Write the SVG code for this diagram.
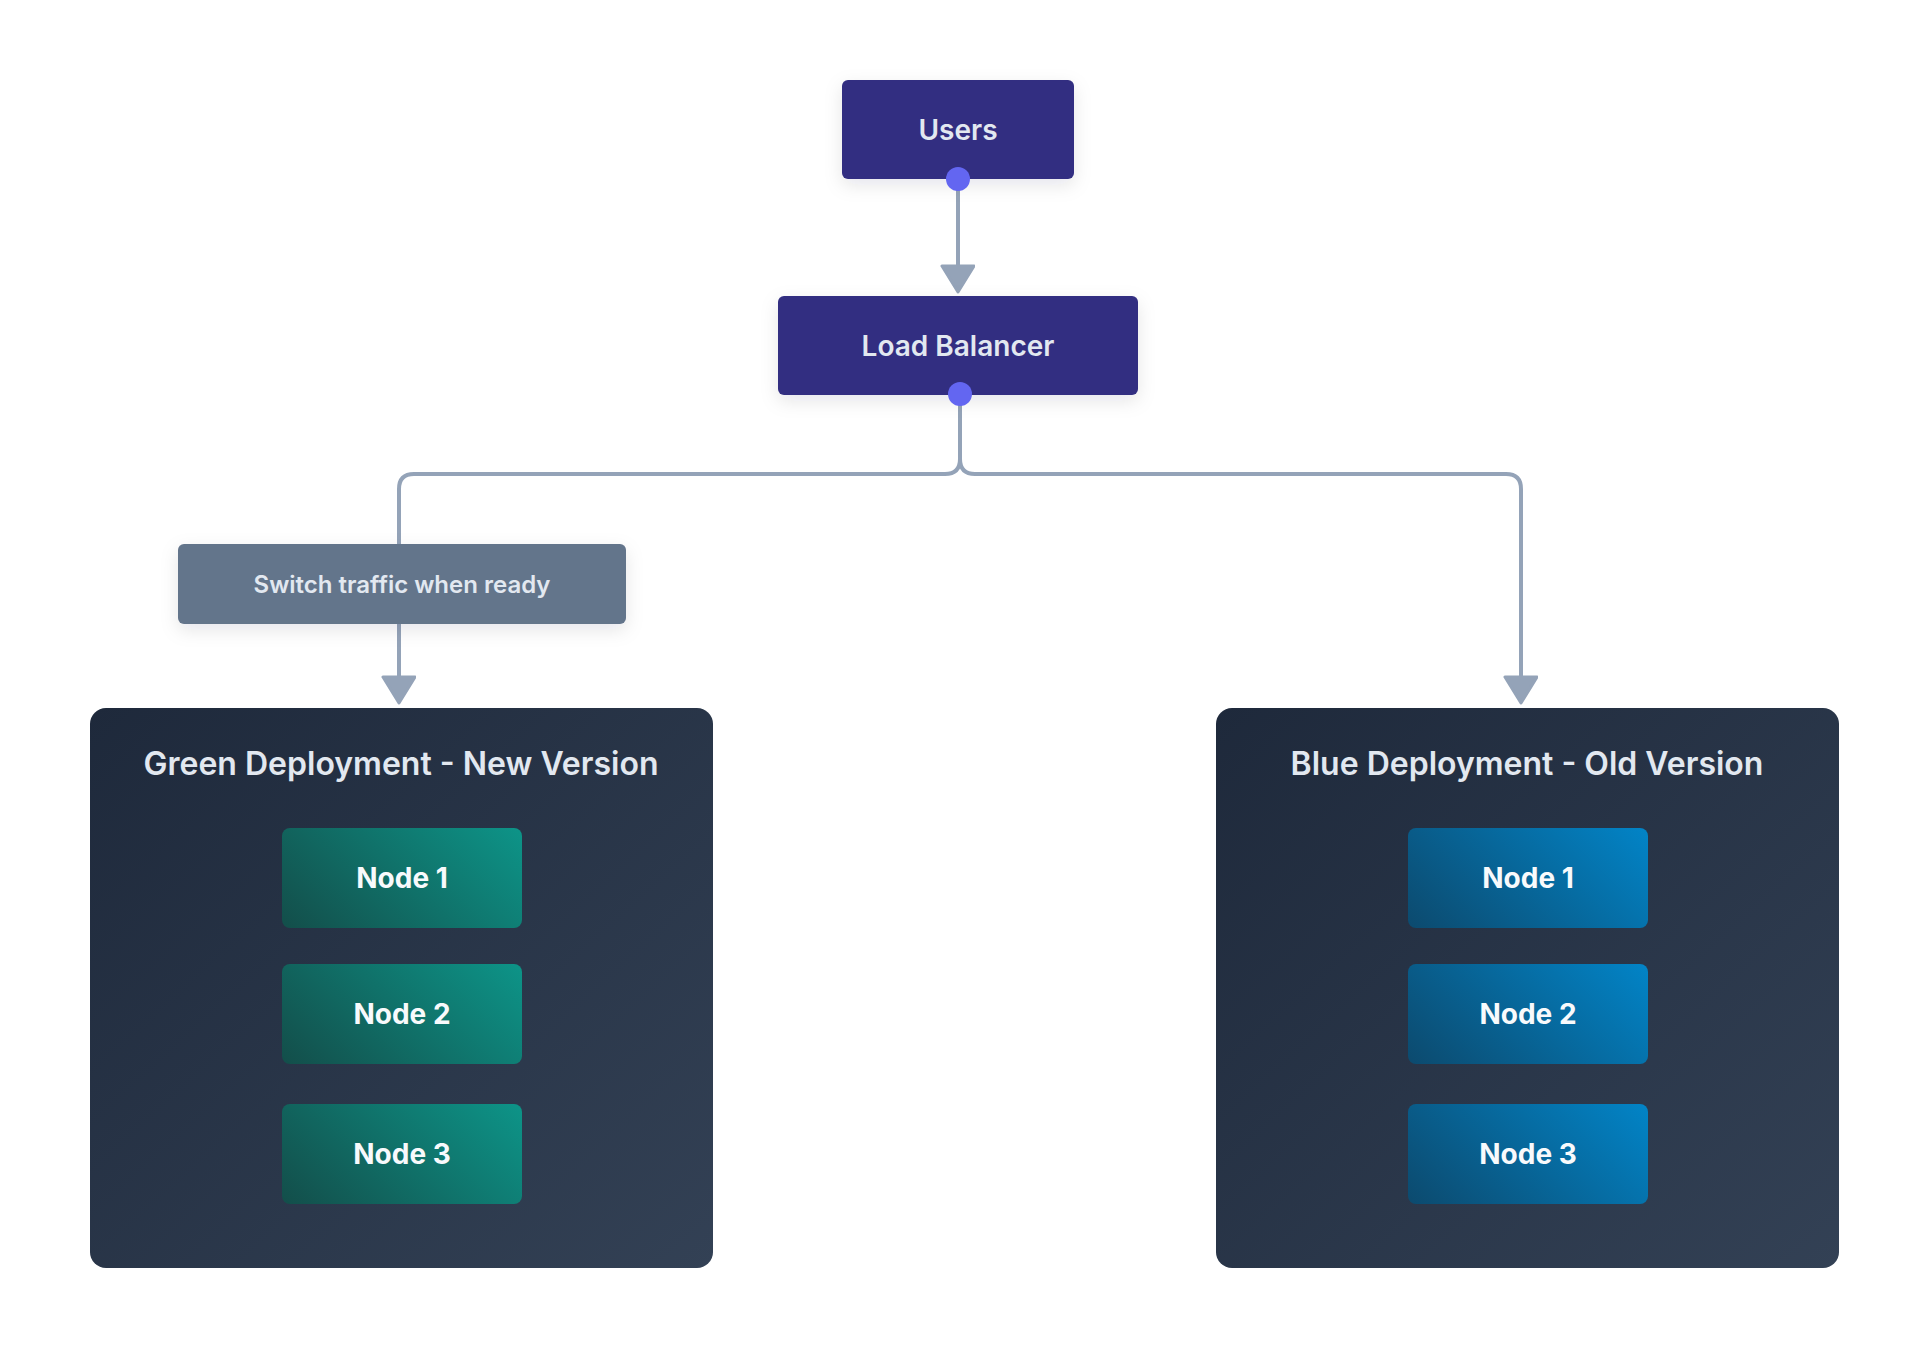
<svg xmlns="http://www.w3.org/2000/svg" width="1920" height="1348" viewBox="0 0 1920 1348">
  <defs>
    <linearGradient id="groupFill" x1="0" y1="0" x2="1" y2="1">
      <stop offset="0" stop-color="#1e293b"/>
      <stop offset="1" stop-color="#334155"/>
    </linearGradient>
    <!-- node gradients run at 45deg in each node's local box (240 x 100) -->
    <linearGradient id="greenFill" gradientUnits="userSpaceOnUse" x1="35" y1="135" x2="205" y2="-35">
      <stop offset="0" stop-color="#134e4a"/>
      <stop offset="1" stop-color="#0d9488"/>
    </linearGradient>
    <linearGradient id="blueFill" gradientUnits="userSpaceOnUse" x1="35" y1="135" x2="205" y2="-35">
      <stop offset="0" stop-color="#0c4a6e"/>
      <stop offset="1" stop-color="#0284c7"/>
    </linearGradient>
    <filter id="shadow" x="-20%" y="-30%" width="140%" height="170%">
      <feDropShadow dx="0" dy="6" stdDeviation="9" flood-color="#0f172a" flood-opacity="0.10"/>
    </filter>
    <marker id="arrow" markerUnits="userSpaceOnUse" markerWidth="40" markerHeight="40" refX="2" refY="17" orient="auto" viewBox="0 0 40 40">
      <path d="M2,1 L28,17 L2,33 Z" fill="#94a3b8" stroke="#94a3b8" stroke-width="3" stroke-linejoin="round"/>
    </marker>
    <style>
      .box { fill: #312e81; filter: url(#shadow); }
      .label-box { fill: #64748b; filter: url(#shadow); }
      .group-box { fill: url(#groupFill); }
      .green { fill: url(#greenFill); }
      .blue { fill: url(#blueFill); }
      .txt { font-family: Inter, "Liberation Sans", sans-serif; fill: #e2e8f0; text-anchor: middle; dominant-baseline: central; }
      .main { font-size: 28px; font-weight: 600; }
      .lbl { font-size: 24px; font-weight: 600; }
      .title { font-size: 32px; font-weight: 600; }
      .node { font-size: 28px; font-weight: 700; fill: #f8fafc; }
      .edge { fill: none; stroke: #94a3b8; stroke-width: 4; }
      .port { fill: #6366f1; }
    </style>
  </defs>

  <rect width="1920" height="1348" fill="#ffffff"/>

  <!-- connectors -->
  <g id="connectors">
    <path class="edge" d="M958,179 L958,266" marker-end="url(#arrow)"/>
    <path class="edge" d="M960,396 L960,459 Q960,474 945,474 L414,474 Q399,474 399,489 L399,677" marker-end="url(#arrow)"/>
    <path class="edge" d="M960,396 L960,459 Q960,474 975,474 L1506,474 Q1521,474 1521,489 L1521,677" marker-end="url(#arrow)"/>
  </g>

  <!-- traffic edge label -->
  <g id="switch-label">
    <rect class="label-box" x="178" y="544" width="448" height="80" rx="6"/>
    <text class="txt lbl" x="402" y="584">Switch traffic when ready</text>
  </g>

  <g id="users">
    <rect class="box" x="842" y="80" width="232" height="99" rx="6"/>
    <text class="txt main" x="958" y="130">Users</text>
    <circle class="port" cx="958" cy="179" r="12"/>
  </g>

  <g id="load-balancer">
    <rect class="box" x="778" y="296" width="360" height="99" rx="6"/>
    <text class="txt main" x="958" y="346">Load Balancer</text>
    <circle class="port" cx="960" cy="394" r="12"/>
  </g>

  <!-- green deployment -->
  <g id="green-deployment">
    <rect class="group-box" x="90" y="708" width="623" height="560" rx="16"/>
    <text class="txt title" x="401" y="763">Green Deployment - New Version</text>
  </g>
  <g id="green-node-1" transform="translate(282,828)">
    <rect class="green" width="240" height="100" rx="8"/>
    <text class="txt node" x="120" y="50">Node 1</text>
  </g>
  <g id="green-node-2" transform="translate(282,964)">
    <rect class="green" width="240" height="100" rx="8"/>
    <text class="txt node" x="120" y="50">Node 2</text>
  </g>
  <g id="green-node-3" transform="translate(282,1104)">
    <rect class="green" width="240" height="100" rx="8"/>
    <text class="txt node" x="120" y="50">Node 3</text>
  </g>

  <!-- blue deployment -->
  <g id="blue-deployment">
    <rect class="group-box" x="1216" y="708" width="623" height="560" rx="16"/>
    <text class="txt title" x="1527" y="763">Blue Deployment - Old Version</text>
  </g>
  <g id="blue-node-1" transform="translate(1408,828)">
    <rect class="blue" width="240" height="100" rx="8"/>
    <text class="txt node" x="120" y="50">Node 1</text>
  </g>
  <g id="blue-node-2" transform="translate(1408,964)">
    <rect class="blue" width="240" height="100" rx="8"/>
    <text class="txt node" x="120" y="50">Node 2</text>
  </g>
  <g id="blue-node-3" transform="translate(1408,1104)">
    <rect class="blue" width="240" height="100" rx="8"/>
    <text class="txt node" x="120" y="50">Node 3</text>
  </g>
</svg>
